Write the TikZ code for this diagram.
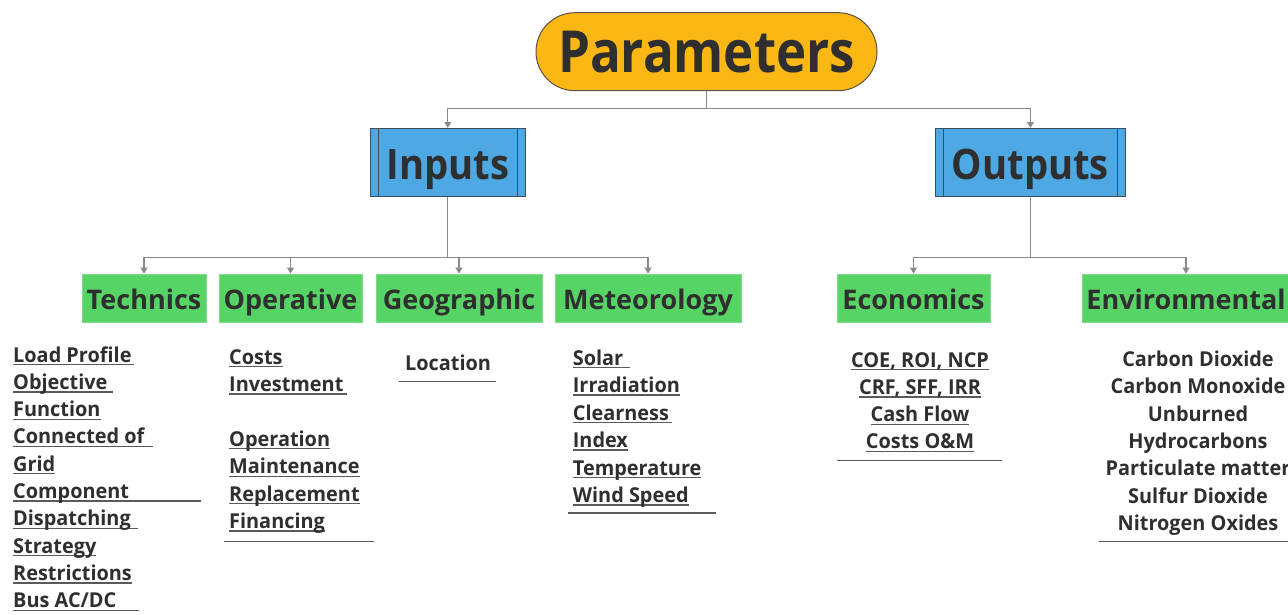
\documentclass[tikz,border=0pt]{standalone}
\usepackage{fontspec}
\setmainfont{Open Sans}
\newfontfamily\titlefont{Open Sans}[FakeStretch=0.88]
\newfontfamily\iofont{Open Sans}[FakeStretch=0.91]
\newfontfamily\itemfont{Open Sans}[FakeStretch=0.97]
\usetikzlibrary{arrows.meta}
\definecolor{paramfill}{HTML}{FBB714}
\definecolor{paramdraw}{HTML}{5A5046}
\definecolor{bluefill}{HTML}{4EA8E4}
\definecolor{bluedraw}{HTML}{3C4E5E}
\definecolor{greenfill}{HTML}{57D466}
\definecolor{greendraw}{HTML}{7EDC88}
\definecolor{txt}{HTML}{2F2F2F}
\definecolor{conncol}{HTML}{8A8A8A}
\definecolor{rulecol}{HTML}{5A5A5A}
\newcommand\ulx[2][0pt]{\setbox0\hbox{#2}\dimen0=\wd0 \ifdim#1>\dimen0 \dimen0=#1\fi\rlap{\color{rulecol}\rule[-3.2pt]{\dimen0}{1.3pt}}\box0}
\tikzset{
 conn/.style={draw=conncol, line width=1.2pt, -{Triangle[width=7pt,length=6pt]}},
 trunk/.style={draw=conncol, line width=1.2pt},
 parambox/.style={draw=paramdraw, line width=1pt, fill=paramfill, rounded corners=39pt, minimum width=341pt, minimum height=78pt, font=\titlefont\fontsize{58}{60}\selectfont\bfseries, text=txt, inner sep=0pt, text height=42pt, text depth=0pt},
 iobox/.style={draw=bluedraw, line width=1pt, fill=bluefill, minimum height=68pt, font=\iofont\fontsize{42}{44}\selectfont\bfseries, text=txt, inner sep=0pt, text height=34.4pt, text depth=0pt,
   path picture={\draw[bluedraw, line width=1pt] ([xshift=8pt]path picture bounding box.north west) -- ([xshift=8pt]path picture bounding box.south west) ([xshift=-8pt]path picture bounding box.north east) -- ([xshift=-8pt]path picture bounding box.south east);}},
 catbox/.style={draw=greendraw, line width=0.8pt, fill=greenfill, minimum height=48pt, font=\fontsize{27}{29}\selectfont\bfseries, text=txt, inner sep=0pt, text height=23.3pt, text depth=0pt},
 item/.style={font=\itemfont\fontsize{20.5}{22}\selectfont\bfseries, text=txt, inner sep=0pt, anchor=base west},
 citem/.style={item, anchor=base},
 sep/.style={draw=rulecol, line width=1.3pt},
}
\begin{document}
\begin{tikzpicture}[x=1pt,y=-1pt]
\useasboundingbox (0,0) rectangle (1288,614);
% top level
\node[parambox] (par) at (706.5,51.7) {Parameters};
\node[iobox, minimum width=155.5pt] (inp) at (447.8,162.5) {Inputs};
\node[iobox, minimum width=190.5pt] (outp) at (1030.4,162.5) {Outputs};
% categories
\node[catbox, minimum width=124pt] (tech) at (144,298) {Technics};
\node[catbox, minimum width=143pt] (oper) at (290.5,298) {Operative};
\node[catbox, minimum width=166pt] (geo) at (459,298) {Geographic};
\node[catbox, minimum width=186pt] (met) at (648,298) {Meteorology};
\node[catbox, minimum width=153pt] (eco) at (913.5,298) {Economics};
\node[catbox, minimum width=208pt] (env) at (1186,298) {Environmental};
% connectors
\coordinate (j0) at (706.5,108.3);
\coordinate (j1) at (447.8,257.5);
\coordinate (j2) at (1030.4,257.5);
\draw[trunk] (par.south) -- (j0);
\draw[conn] (j0) -| (inp.north);
\draw[conn] (j0) -| (outp.north);
\draw[trunk] (inp.south) -- (j1);
\draw[conn] (j1) -| (tech.north);
\draw[conn] (j1) -| (oper.north);
\draw[conn] (j1) -| (geo.north);
\draw[conn] (j1) -| (met.north);
\draw[trunk] (outp.south) -- (j2);
\draw[conn] (j2) -| (eco.north);
\draw[conn] (j2) -| (env.north);
% Technics list
\foreach \t [count=\i from 0] in {{\ulx[121pt]{Load Profile}},{\ulx[100pt]{Objective}},{\ulx{Function}},{\ulx[140pt]{Connected of}},{\ulx{Grid}},{\ulx[188pt]{Component}},{\ulx[125pt]{Dispatching}},{\ulx{Strategy}},{\ulx{Restrictions}},{\ulx[126pt]{Bus AC/DC}}}
  \node[item] (tech\i) at (13,{362+27.3*\i}) {\t};
% Operative list
\node[item] (op1) at (229,364) {\ulx{Costs}};
\node[item] (op2) at (229,391.4) {\ulx[118pt]{Investment}};
\node[item] (op3) at (229,446.2) {\ulx{Operation}};
\node[item] (op4) at (229,473.6) {\ulx{Maintenance}};
\node[item] (op5) at (229,501) {\ulx{Replacement}};
\node[item] (op6) at (229,528.4) {\ulx{Financing}};
\draw[sep] (224,541.5) -- (374,541.5);
% Geographic
\node[item] (loc) at (405,370) {Location};
\draw[sep] (399,381.7) -- (496,381.7);
% Meteorology
\foreach \t [count=\i from 0] in {{\ulx[57pt]{Solar}},{\ulx{Irradiation}},{\ulx[99pt]{Clearness}},{\ulx{Index}},{\ulx{Temperature}},{\ulx{Wind Speed}}}
  \node[item] (met\i) at (572.7,{365+27.5*\i}) {\t};
\draw[sep] (568,513) -- (716,513);
% Economics
\foreach \t [count=\i from 0] in {{\ulx{COE, ROI, NCP}},{\ulx{CRF, SFF, IRR}},{\ulx{Cash Flow}},{\ulx{Costs O\&M}}}
  \node[citem] (eco\i) at (920,{367+27.3*\i}) {\t};
\draw[sep] (837,460.7) -- (1002,460.7);
% Environmental
\foreach \t [count=\i from 0] in {Carbon Dioxide,Carbon Monoxide,Unburned,Hydrocarbons,Particulate matter,Sulfur Dioxide,Nitrogen Oxides}
  \node[citem] (env\i) at (1198,{366.5+27.3*\i}) {\t};
\draw[sep] (1099,541.7) -- (1290,541.7);
\end{tikzpicture}
\end{document}
